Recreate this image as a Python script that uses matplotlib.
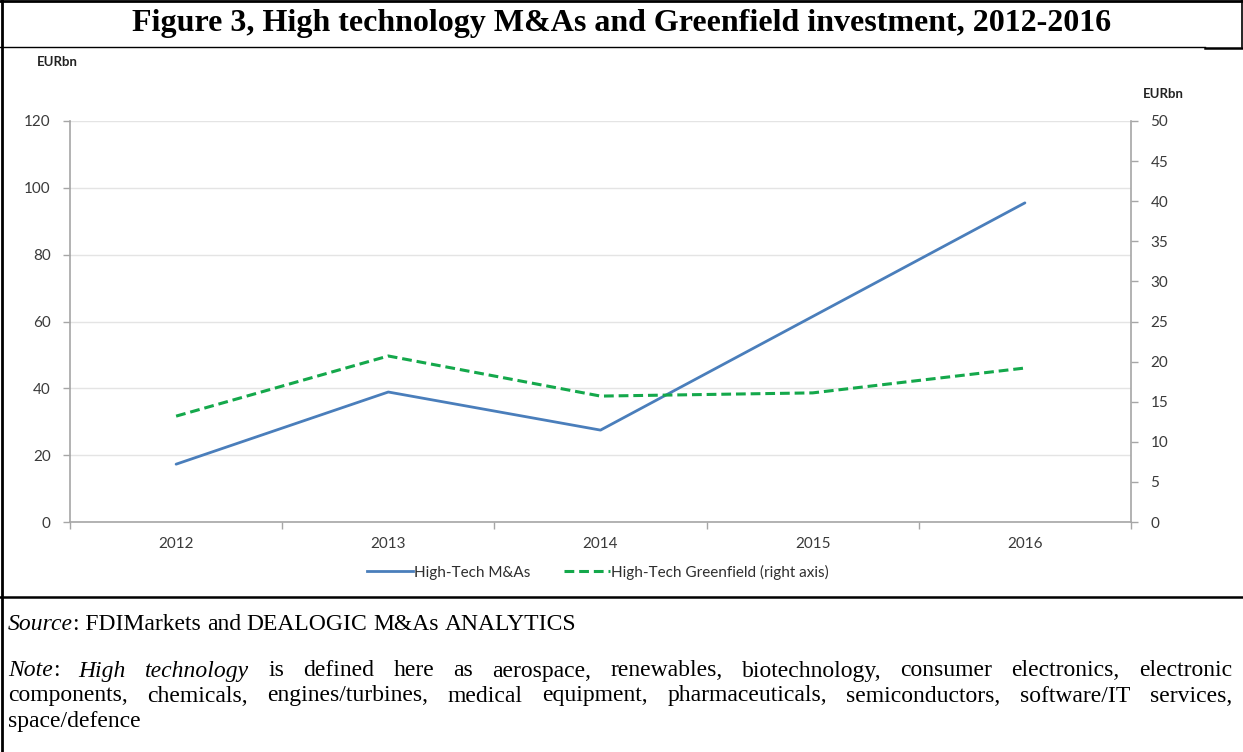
import matplotlib
matplotlib.use("Agg")
import matplotlib.pyplot as plt
from matplotlib.lines import Line2D

years = ["2012", "2013", "2014", "2015", "2016"]
ma_values = [17.3, 38.9, 27.5, 61.5, 95.5]
greenfield_values = [13.2, 20.7, 15.7, 16.1, 19.2]
left_ticks = [0, 20, 40, 60, 80, 100, 120]
right_ticks = [0, 5, 10, 15, 20, 25, 30, 35, 40, 45, 50]

W, H = 1243, 752
fig = plt.figure(figsize=(W / 100, H / 100), dpi=100)
fig.patch.set_facecolor("white")

def fx(px):
    return px / W

def fy(py):
    return 1 - py / H

chart_font = ["Lato", "DejaVu Sans"]
tick_color = "#3A3A3A"
axis_color = "#A6A6A6"
grid_color = "#E4E4E4"
blue = "#4A7EBB"
green = "#14A84B"

ax_l, ax_r, ax_t, ax_b = 70, 1131, 121, 522
ax = fig.add_axes([fx(ax_l), fy(ax_b), fx(ax_r - ax_l), (ax_b - ax_t) / H])
x = list(range(len(years)))
ax.plot(x, ma_values, color=blue, lw=2.0, solid_capstyle="round", zorder=3)
ax.set_xlim(-0.5, len(years) - 0.5)
ax.set_ylim(0, 120)
ax.set_yticks(left_ticks)
ax.set_yticklabels([str(v) for v in left_ticks], fontfamily=chart_font, fontsize=11, color=tick_color)
ax.set_xticks(x)
ax.set_xticklabels(years, fontfamily=chart_font, fontsize=11, color=tick_color)
ax.set_xticks([i - 0.5 for i in range(len(years) + 1)], minor=True)
ax.tick_params(axis="x", which="major", length=0, pad=11)
ax.tick_params(axis="x", which="minor", length=5, color=axis_color, width=1, direction="out")
ax.tick_params(axis="y", length=5, color=axis_color, width=1, pad=9, direction="out")
ax.grid(axis="y", color=grid_color, lw=1)
ax.set_axisbelow(True)
for s in ["top", "right"]:
    ax.spines[s].set_visible(False)
for s in ["left", "bottom"]:
    ax.spines[s].set_color(axis_color)
    ax.spines[s].set_linewidth(1.2)

ax2 = ax.twinx()
ax2.plot(x, greenfield_values, color=green, lw=2.2, ls=(0, (3.2, 1.6)), zorder=3)
ax2.set_ylim(0, 50)
ax2.set_yticks(right_ticks)
ax2.set_yticklabels([str(v) for v in right_ticks], fontfamily=chart_font, fontsize=11, color=tick_color)
ax2.tick_params(axis="y", length=5, color=axis_color, width=1, pad=9, direction="out")
for s in ["top", "left", "bottom"]:
    ax2.spines[s].set_visible(False)
ax2.spines["right"].set_color(axis_color)
ax2.spines["right"].set_linewidth(1.2)

fig.text(fx(37), fy(62), "EURbn", fontfamily=chart_font, fontsize=9.5, fontweight="bold",
         color="#222222", ha="left", va="center")
fig.text(fx(1143), fy(94), "EURbn", fontfamily=chart_font, fontsize=9.5, fontweight="bold",
         color="#222222", ha="left", va="center")

handles = [Line2D([], [], color=blue, lw=2.0),
           Line2D([], [], color=green, lw=2.2, ls=(0, (3.2, 1.6)))]
fig.legend(handles, ["High-Tech M&As", "High-Tech Greenfield (right axis)"],
           loc="center", bbox_to_anchor=(fx(598), fy(572)), ncol=2, frameon=False,
           prop={"family": chart_font, "size": 11}, handlelength=3.0, handletextpad=0.1,
           columnspacing=2.2, labelcolor="#2E2E2E")

# Title
fig.text(fx(622), fy(23), "Figure 3, High technology M&As and Greenfield investment, 2012-2016",
         fontfamily="Liberation Serif", fontsize=23, fontweight="bold", ha="center", va="center")

# Frame lines
def hline(y, x0, x1, lw):
    fig.add_artist(Line2D([fx(x0), fx(x1)], [fy(y), fy(y)], color="black", lw=lw, transform=fig.transFigure))

def vline(xp, y0, y1, lw):
    fig.add_artist(Line2D([fx(xp), fx(xp)], [fy(y0), fy(y1)], color="black", lw=lw, transform=fig.transFigure))

hline(1, 0, W, 2.0)
hline(47, 0, 1205, 1.0)
hline(47.5, 1205, W, 1.8)
hline(597, 0, W, 1.8)
vline(2, 0, H, 2.0)
vline(1241.5, 0, 47, 1.2)

# Source and note text (justified manually)
serif = "Liberation Serif"
fs = 17
fig.canvas.draw()
renderer = fig.canvas.get_renderer()

def measure(s, st="normal"):
    t = fig.text(0, 0, s, fontfamily=serif, fontsize=fs, style=st)
    w = t.get_window_extent(renderer=renderer).width
    t.remove()
    return w

space_w = measure("a a") - 2 * measure("a")

def draw_tokens(tokens, y, x0, x1, justify):
    arts, widths = [], []
    for word, st in tokens:
        t = fig.text(0, fy(y), word, fontfamily=serif, fontsize=fs, style=st, ha="left", va="center")
        widths.append(t.get_window_extent(renderer=renderer).width)
        arts.append(t)
    glued = [i > 0 and tokens[i][0].startswith(":") for i in range(len(tokens))]
    gaps = sum(1 for i in range(1, len(tokens)) if not glued[i])
    total = sum(widths)
    gap = (x1 - x0 - total) / gaps if (justify and gaps) else space_w
    pos = x0
    for i, (a, w) in enumerate(zip(arts, widths)):
        if i > 0 and not glued[i]:
            pos += gap
        a.set_x(fx(pos))
        pos += w

source_line = [("Source", "italic"), (": FDIMarkets", "normal"), ("and", "normal"), ("DEALOGIC", "normal"),
               ("M&As", "normal"), ("ANALYTICS", "normal")]
line1 = [("Note", "italic"), (":", "normal"), ("High", "italic"), ("technology", "italic")] + \
    [(w, "normal") for w in "is defined here as aerospace, renewables, biotechnology, consumer electronics, electronic".split()]
line2 = [(w, "normal") for w in "components, chemicals, engines/turbines, medical equipment, pharmaceuticals, semiconductors, software/IT services,".split()]
line3 = [(w, "normal") for w in "space/defence".split()]
draw_tokens(source_line, 625, 8, 1232, False)
draw_tokens(line1, 671, 8, 1232, True)
draw_tokens(line2, 696, 8, 1232, True)
draw_tokens(line3, 721, 8, 1232, False)

fig.savefig("out.png", dpi=100, facecolor="white")
